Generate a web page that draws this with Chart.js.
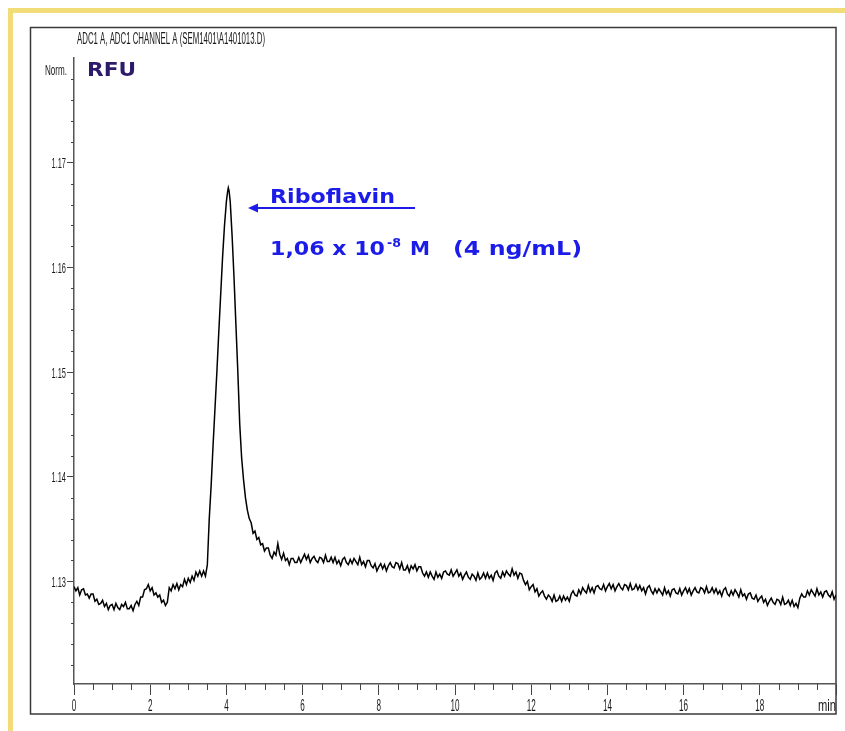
<!DOCTYPE html>
<html>
<head>
<meta charset="utf-8">
<title>ADC1 A - Riboflavin</title>
<script src="https://cdn.jsdelivr.net/npm/chart.js@4.4.1/dist/chart.umd.min.js"></script>
<style>
    html, body { margin: 0; padding: 0; background: #fff; }
    #wrap { width: 845px; height: 731px; }
</style>
</head>
<body>
<div id="wrap"><canvas id="chromChart" width="845" height="731"></canvas></div>
<script>
// detector samples every 0.05 min
const SAMPLE_STEP = 0.05;

// baseline before the peak, 0.00 .. 3.45 min
const BEFORE_START = 0;
const signalBefore = [
    1.1295, 1.1291, 1.1294, 1.1287, 1.1292, 1.1293, 1.1287, 1.1288, 1.1284, 1.1288,
    1.1288, 1.1281, 1.1283, 1.1278, 1.1279, 1.1282, 1.1276, 1.1279, 1.1273, 1.1277,
    1.1278, 1.1273, 1.1279, 1.1275, 1.1273, 1.1278, 1.1276, 1.1280, 1.1274, 1.1274,
    1.1277, 1.1272, 1.1278, 1.1281, 1.1277, 1.1285, 1.1285, 1.1292, 1.1293, 1.1297,
    1.1291, 1.1294, 1.1287, 1.1289, 1.1285, 1.1287, 1.1280, 1.1282, 1.1277, 1.1280,
    1.1294, 1.1291, 1.1297, 1.1293, 1.1298, 1.1292, 1.1297, 1.1295, 1.1302, 1.1297,
    1.1303, 1.1299, 1.1305, 1.1301, 1.1309, 1.1305, 1.1310, 1.1305, 1.1310, 1.1305
];

// riboflavin peak
const peakTimes = [
    3.5, 3.55, 3.6, 3.65, 3.7, 3.75, 3.8, 3.85, 3.9, 3.95, 4.0, 4.03, 4.05, 4.07,
    4.1, 4.15, 4.2, 4.25, 4.3, 4.35, 4.4, 4.45, 4.5, 4.55, 4.6, 4.65, 4.7, 4.75, 4.8
];
const peakSignal = [
    1.1316, 1.1360, 1.1392, 1.1430, 1.1465, 1.1500, 1.1538, 1.1574, 1.1610, 1.1640, 1.1663, 1.1672, 1.1676, 1.1673,
    1.1663, 1.1630, 1.1590, 1.1545, 1.1500, 1.1450, 1.1418, 1.1397, 1.1380, 1.1368, 1.1360, 1.1356, 1.1346, 1.1348, 1.1340
];

// baseline after the peak, 4.85 .. 20.00 min
const AFTER_START = 4.85;
const signalAfter = [
    1.1342, 1.1335, 1.1336, 1.1329, 1.1332, 1.1332, 1.1325, 1.1322, 1.1328, 1.1325,
    1.1336, 1.1326, 1.1321, 1.1327, 1.1320, 1.1322, 1.1316, 1.1322, 1.1322, 1.1318,
    1.1318, 1.1323, 1.1318, 1.1322, 1.1326, 1.1321, 1.1325, 1.1318, 1.1322, 1.1324,
    1.1320, 1.1318, 1.1323, 1.1322, 1.1318, 1.1325, 1.1319, 1.1319, 1.1323, 1.1318,
    1.1323, 1.1317, 1.1320, 1.1315, 1.1321, 1.1323, 1.1318, 1.1316, 1.1321, 1.1317,
    1.1322, 1.1319, 1.1316, 1.1323, 1.1316, 1.1319, 1.1314, 1.1320, 1.1320, 1.1315,
    1.1313, 1.1317, 1.1310, 1.1314, 1.1317, 1.1312, 1.1316, 1.1310, 1.1315, 1.1318,
    1.1314, 1.1313, 1.1318, 1.1317, 1.1312, 1.1318, 1.1311, 1.1311, 1.1315, 1.1309,
    1.1315, 1.1312, 1.1316, 1.1310, 1.1314, 1.1314, 1.1308, 1.1305, 1.1309, 1.1304,
    1.1309, 1.1305, 1.1302, 1.1309, 1.1304, 1.1307, 1.1303, 1.1309, 1.1310, 1.1307,
    1.1306, 1.1311, 1.1305, 1.1308, 1.1311, 1.1305, 1.1308, 1.1302, 1.1306, 1.1309,
    1.1304, 1.1302, 1.1307, 1.1305, 1.1301, 1.1308, 1.1302, 1.1304, 1.1308, 1.1303,
    1.1308, 1.1303, 1.1306, 1.1301, 1.1308, 1.1310, 1.1305, 1.1303, 1.1309, 1.1305,
    1.1310, 1.1307, 1.1305, 1.1312, 1.1306, 1.1309, 1.1303, 1.1308, 1.1307, 1.1301,
    1.1297, 1.1300, 1.1292, 1.1295, 1.1297, 1.1290, 1.1293, 1.1286, 1.1289, 1.1291,
    1.1286, 1.1283, 1.1287, 1.1285, 1.1281, 1.1287, 1.1281, 1.1282, 1.1286, 1.1281,
    1.1286, 1.1282, 1.1285, 1.1281, 1.1288, 1.1291, 1.1287, 1.1286, 1.1292, 1.1288,
    1.1294, 1.1291, 1.1289, 1.1296, 1.1290, 1.1294, 1.1289, 1.1295, 1.1296, 1.1293,
    1.1292, 1.1297, 1.1291, 1.1295, 1.1298, 1.1293, 1.1297, 1.1291, 1.1295, 1.1298,
    1.1294, 1.1292, 1.1297, 1.1296, 1.1292, 1.1298, 1.1292, 1.1293, 1.1297, 1.1292,
    1.1296, 1.1291, 1.1294, 1.1288, 1.1294, 1.1296, 1.1291, 1.1288, 1.1293, 1.1289,
    1.1293, 1.1290, 1.1287, 1.1294, 1.1288, 1.1291, 1.1286, 1.1292, 1.1293, 1.1289,
    1.1288, 1.1293, 1.1287, 1.1291, 1.1294, 1.1289, 1.1293, 1.1287, 1.1291, 1.1294,
    1.1290, 1.1289, 1.1294, 1.1293, 1.1289, 1.1295, 1.1289, 1.1290, 1.1294, 1.1289,
    1.1293, 1.1288, 1.1291, 1.1286, 1.1292, 1.1294, 1.1288, 1.1286, 1.1291, 1.1287,
    1.1292, 1.1289, 1.1285, 1.1292, 1.1286, 1.1288, 1.1283, 1.1288, 1.1289, 1.1284,
    1.1283, 1.1287, 1.1281, 1.1284, 1.1286, 1.1280, 1.1283, 1.1277, 1.1281, 1.1284,
    1.1280, 1.1278, 1.1283, 1.1282, 1.1278, 1.1285, 1.1278, 1.1279, 1.1282, 1.1277,
    1.1282, 1.1276, 1.1279, 1.1275, 1.1284, 1.1288, 1.1285, 1.1285, 1.1291, 1.1287,
    1.1292, 1.1289, 1.1286, 1.1293, 1.1287, 1.1290, 1.1285, 1.1290, 1.1291, 1.1287,
    1.1285, 1.1290, 1.1283, 1.1287
];

const xMajorTicks = [0, 2, 4, 6, 8, 10, 12, 14, 16, 18, 20];
const xTickLabels = ['0', '2', '4', '6', '8', '10', '12', '14', '16', '18', 'min'];
const yMajorTicks = [1.13, 1.14, 1.15, 1.16, 1.17];
const yTickLabels = ['1.13', '1.14', '1.15', '1.16', '1.17'];

const headerText = 'ADC1 A, ADC1 CHANNEL A (SEM1401\\A1401013.D)';
const AXIS_FONT = '"Liberation Sans", Arial, sans-serif';
const BOLD_FONT = '"DejaVu Sans", Verdana, sans-serif';
const BLUE = '#1c1ce8';

function sampled(start, values) {
    return values.map((v, i) => ({ x: +(start + i * SAMPLE_STEP).toFixed(2), y: v }));
}

// draws text squeezed/stretched to a given width
function fitText(c, text, x, y, width) {
    const w = c.measureText(text).width;
    c.save();
    c.translate(x, y);
    c.scale(width / w, 1);
    c.fillText(text, 0, 0);
    c.restore();
}

const chromDecor = {
    id: 'chromDecor',
    beforeDraw(chart) {
        const c = chart.ctx;
        c.save();
        c.fillStyle = '#fff';
        c.fillRect(0, 0, chart.width, chart.height);
        // yellow page border
        c.fillStyle = '#f2dc78';
        c.fillRect(8, 8, chart.width - 8, 5);
        c.fillRect(8, 8, 5, chart.height - 8);
        // plot frame
        c.strokeStyle = '#3a3a3a';
        c.lineWidth = 1.5;
        c.strokeRect(30.5, 27.5, 805.5, 686.5);
        c.restore();
    },
    afterDraw(chart) {
        const c = chart.ctx;
        const xs = chart.scales.x, ys = chart.scales.y;
        const area = chart.chartArea;
        c.save();
        c.strokeStyle = '#444';
        c.lineWidth = 1;

        // minor ticks
        c.beginPath();
        for (let k = 1; k < 40; k++) {
            if (k % 4 === 0) continue;
            const px = Math.round(xs.getPixelForValue(k * 0.5)) + 0.5;
            c.moveTo(px, area.bottom);
            c.lineTo(px, area.bottom + 6);
        }
        for (let k = 1; k < 30; k++) {
            if (k % 5 === 0) continue;
            const py = Math.round(ys.getPixelForValue(1.12 + k * 0.002)) + 0.5;
            c.moveTo(area.left - 3, py);
            c.lineTo(area.left, py);
        }
        c.stroke();

        // tick labels (narrow, like the instrument printout)
        c.fillStyle = '#1a1a1a';
        c.font = '16px ' + AXIS_FONT;
        xMajorTicks.forEach((v, i) => {
            const label = xTickLabels[i];
            const px = xs.getPixelForValue(v);
            const w = label.length * 4.5;
            if (label === 'min') {
                fitText(c, label, px - 18, 711, 18);
            } else {
                fitText(c, label, px - w / 2, 711, w);
            }
        });
        c.font = '15px ' + AXIS_FONT;
        yMajorTicks.forEach((v, i) => {
            const py = ys.getPixelForValue(v);
            fitText(c, yTickLabels[i], 51.5, py + 5.5, 14.5);
        });
        c.font = '14px ' + AXIS_FONT;
        fitText(c, 'Norm.', 45, 75, 22);
        c.font = '16px ' + AXIS_FONT;
        fitText(c, headerText, 77, 43.5, 188);

        // RFU
        c.fillStyle = '#2d1a6b';
        c.font = 'bold 20px ' + BOLD_FONT;
        fitText(c, 'RFU', 87, 76, 49);

        // peak annotation
        c.fillStyle = BLUE;
        c.strokeStyle = BLUE;
        c.font = 'bold 20px ' + BOLD_FONT;
        fitText(c, 'Riboflavin', 270, 202.5, 125);
        c.lineWidth = 2;
        c.beginPath();
        c.moveTo(256, 208);
        c.lineTo(415, 208);
        c.stroke();
        c.beginPath();
        c.moveTo(248, 208);
        c.lineTo(258, 203.5);
        c.lineTo(258, 212.5);
        c.closePath();
        c.fill();

        c.font = 'bold 19px ' + BOLD_FONT;
        fitText(c, '1,06 x 10', 270, 255, 115);
        fitText(c, 'M', 410, 255, 20);
        fitText(c, '(4 ng/mL)', 453, 255, 129);
        c.font = 'bold 12px ' + BOLD_FONT;
        fitText(c, '-8', 387, 247, 14);
        c.restore();
    }
};

function initChart() {
    const ctx = document.getElementById('chromChart').getContext('2d');
    const points = sampled(BEFORE_START, signalBefore)
        .concat(peakTimes.map((t, i) => ({ x: t, y: peakSignal[i] })))
        .concat(sampled(AFTER_START, signalAfter));

    return new Chart(ctx, {
        type: 'line',
        data: {
            datasets: [{
                label: 'ADC1 A',
                data: points,
                borderColor: '#000',
                borderWidth: 1.5,
                pointRadius: 0,
                tension: 0,
                fill: false
            }]
        },
        options: {
            responsive: false,
            animation: false,
            layout: { padding: { top: 58, left: 30, right: 9, bottom: 17 } },
            plugins: {
                legend: { display: false },
                tooltip: { enabled: false }
            },
            scales: {
                x: {
                    type: 'linear',
                    min: 0,
                    max: 20,
                    afterBuildTicks: s => { s.ticks = xMajorTicks.map(v => ({ value: v })); },
                    afterFit: s => { s.height = 30; },
                    ticks: { display: false },
                    grid: { drawOnChartArea: false, tickLength: 11, color: '#444' },
                    border: { color: '#555', width: 1.5 }
                },
                y: {
                    min: 1.1202,
                    max: 1.18,
                    afterBuildTicks: s => { s.ticks = yMajorTicks.map(v => ({ value: v })); },
                    afterFit: s => { s.width = 44; },
                    ticks: { display: false },
                    grid: { drawOnChartArea: false, tickLength: 7, color: '#444' },
                    border: { color: '#555', width: 1.5 }
                }
            }
        },
        plugins: [chromDecor]
    });
}

document.addEventListener('DOMContentLoaded', () => {
    initChart();
});
</script>
</body>
</html>
